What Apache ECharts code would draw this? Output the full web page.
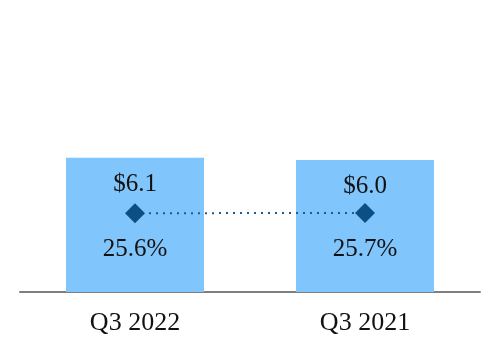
<!DOCTYPE html>
<html>
<head>
<meta charset="utf-8">
<script src="https://cdn.jsdelivr.net/npm/echarts@6/dist/echarts.min.js"></script>
<style>html,body{margin:0;padding:0;background:#fff}#c{width:500px;height:360px}</style>
</head>
<body>
<div id="c"></div>
<script>
var categories = ['Q3 2022', 'Q3 2021'];
var revenue = [6.1, 6.0];
var margin = [25.6, 25.7];

var font = 'Liberation Serif';
var chart = echarts.init(document.getElementById('c'), null, {renderer: 'canvas'});
chart.setOption({
  animation: false,
  grid: {left: 20, right: 20, top: 72, bottom: 68},
  xAxis: {
    type: 'category',
    data: categories,
    axisTick: {show: false},
    axisLine: {lineStyle: {color: '#7f7f7f', width: 2}},
    axisLabel: {fontFamily: font, fontSize: 26, color: '#111', margin: 18}
  },
  yAxis: [
    {type: 'value', min: 0, max: 10, show: false, splitLine: {show: false}},
    {type: 'value', min: 0, max: 71.5, show: false, splitLine: {show: false}}
  ],
  series: [
    {
      type: 'bar',
      data: revenue,
      barWidth: '60%',
      itemStyle: {color: '#80c6fd'},
      label: {
        show: true,
        position: 'insideTop',
        distance: 14,
        fontFamily: font,
        fontSize: 25,
        color: '#111',
        formatter: function (p) { return '$' + p.value.toFixed(1); }
      }
    },
    {
      type: 'line',
      yAxisIndex: 1,
      data: margin,
      symbol: 'diamond',
      symbolSize: 20,
      itemStyle: {color: '#0b4f85'},
      lineStyle: {color: '#1f5a8a', width: 2, type: [2, 5]},
      label: {
        show: true,
        position: 'bottom',
        distance: 14,
        fontFamily: font,
        fontSize: 25,
        color: '#111',
        formatter: function (p) { return p.value.toFixed(1) + '%'; }
      }
    }
  ]
});
</script>
</body>
</html>
